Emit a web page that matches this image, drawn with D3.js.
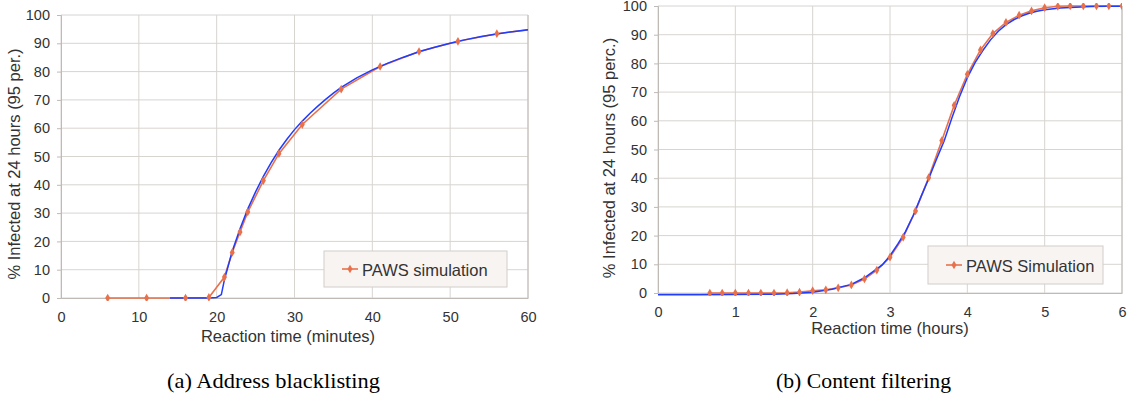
<!DOCTYPE html>
<html>
<head>
<meta charset="utf-8">
<script src="https://cdn.jsdelivr.net/npm/d3@7"></script>
<style>
  body { margin: 0; background: #fff; }
  svg { display: block; }
</style>
</head>
<body>
<svg id="chart" width="1129" height="397"></svg>
<script>
// ---- data: (a) address blacklisting, x in minutes
const blackSimX = [6, 11, 16, 19, 21, 22, 23, 24, 26, 28, 31, 36, 41, 46, 51, 56, 61];
const blackSimY = [0, 0, 0, 0.2, 7.4, 16.1, 23.3, 30.4, 41.5, 51, 61.3, 73.8, 81.8, 87.1, 90.7, 93.4, 95.1];
const blackModelX = [14, 19, 20, 20.6, 21, 22, 23, 24, 25, 26, 27, 28, 29, 30, 31, 32, 33, 34, 35, 36, 38, 40, 42, 44, 46, 48, 50, 52, 54, 56, 58, 60];
const blackModelY = [0, 0, 0.2, 1.2, 6.5, 16.5, 24.5, 31.5, 37.5, 43, 47.8, 52.2, 56, 59.5, 62.5, 65.3, 67.8, 70.2, 72.4, 74.4, 77.8, 80.6, 83, 85.1, 87, 88.6, 90, 91.3, 92.4, 93.3, 94.1, 94.8];

// ---- data: (b) content filtering, x in hours
const filterSimX = [0.67, 0.83, 1, 1.17, 1.33, 1.5, 1.67, 1.83, 2, 2.17, 2.33, 2.5, 2.67, 2.83, 3, 3.17, 3.33, 3.5, 3.67, 3.83, 4, 4.17, 4.33, 4.5, 4.67, 4.83, 5, 5.17, 5.33, 5.5, 5.67, 5.83, 6];
const filterSimY = [0, 0, 0, 0, 0, 0, 0.1, 0.3, 0.8, 1.1, 1.8, 2.8, 4.9, 8, 12.5, 19.4, 28.6, 40.2, 53.1, 65.4, 76.2, 84.7, 90.4, 94.3, 96.8, 98.3, 99.4, 99.9, 100, 100, 100, 100, 100];
const filterModelX = [0, 0.5, 1, 1.5, 1.75, 2, 2.25, 2.5, 2.67, 2.9, 3, 3.1, 3.2, 3.3, 3.4, 3.5, 3.6, 3.7, 3.8, 3.9, 4, 4.1, 4.2, 4.3, 4.4, 4.5, 4.6, 4.7, 4.8, 4.9, 5, 5.2, 5.4, 5.6, 5.8, 6];
const filterModelY = [-0.6, -0.6, -0.55, -0.4, -0.2, 0.3, 1.3, 3, 5.3, 9.8, 13, 17, 21.4, 27, 33.5, 39.8, 46.5, 53, 61, 68.5, 75, 80.3, 84.5, 88.2, 91.2, 93.5, 95.2, 96.5, 97.5, 98.2, 98.7, 99.3, 99.6, 99.8, 99.9, 99.9];

const yTicks = [0, 10, 20, 30, 40, 50, 60, 70, 80, 90, 100];
const blackXTicks = [0, 10, 20, 30, 40, 50, 60];
const filterXTicks = [0, 1, 2, 3, 4, 5, 6];

const orange = "#e8714c";
const blue = "#1f3cff";
const gridColor = "#d8d4d0";
const axisColor = "#bfbab6";
const textColor = "#333";

const svg = d3.select("#chart");

function drawPanel(p) {
    const x = d3.scaleLinear().domain(p.xDomain).range([p.left, p.right]);
    const y = d3.scaleLinear().domain([0, 100]).range([p.bottom, p.top]);
    const g = svg.append("g");

    // clip so lines stop at the plot edge
    g.append("clipPath").attr("id", p.id + "-clip")
        .append("rect")
        .attr("x", p.left).attr("y", p.top - 3)
        .attr("width", p.right - p.left).attr("height", p.bottom - p.top + 6);

    // grid
    g.selectAll(".hgrid").data(yTicks).enter().append("line")
        .attr("x1", p.left).attr("x2", p.right)
        .attr("y1", d => y(d)).attr("y2", d => y(d))
        .attr("stroke", gridColor).attr("stroke-width", 1);
    g.selectAll(".vgrid").data(p.xTicks).enter().append("line")
        .attr("x1", d => x(d)).attr("x2", d => x(d))
        .attr("y1", p.top).attr("y2", p.bottom)
        .attr("stroke", gridColor).attr("stroke-width", 1);

    // axes
    const yAxis = g.append("g").attr("transform", `translate(${p.left},0)`)
        .call(d3.axisLeft(y).tickValues(yTicks).tickSize(4).tickPadding(7));
    const xAxis = g.append("g").attr("transform", `translate(0,${p.bottom})`)
        .call(d3.axisBottom(x).tickValues(p.xTicks).tickFormat(d3.format("d")).tickSize(0).tickPadding(14));
    [yAxis, xAxis].forEach(a => {
        a.select(".domain").attr("stroke", axisColor);
        a.selectAll(".tick line").attr("stroke", axisColor);
        a.selectAll("text").attr("fill", textColor)
            .style("font-family", "'Liberation Sans', Arial, sans-serif")
            .style("font-size", "14.5px");
    });
    xAxis.selectAll("text").attr("dy", p.xTickDy);
    g.append("line").attr("x1", p.right).attr("x2", p.right)
        .attr("y1", p.top).attr("y2", p.bottom).attr("stroke", axisColor);

    // series
    const line = d3.line().x(d => x(d[0])).y(d => y(d[1]));
    const sim = p.simX.map((v, i) => [v, p.simY[i]]);
    const model = p.modelX.map((v, i) => [v, p.modelY[i]]);
    const plot = g.append("g").attr("clip-path", `url(#${p.id}-clip)`);
    plot.append("path").datum(sim).attr("d", line)
        .attr("fill", "none").attr("stroke", orange).attr("stroke-width", 1.6);
    plot.append("path").datum(model).attr("d", line)
        .attr("fill", "none").attr("stroke", blue).attr("stroke-width", 1.5);
    plot.selectAll(".mk").data(sim).enter().append("path")
        .attr("d", d3.symbol().type(d3.symbolDiamond).size(22))
        .attr("transform", d => `translate(${x(d[0])},${y(d[1])})`)
        .attr("fill", orange);

    // axis titles
    g.append("text").attr("x", p.xTitleX).attr("y", p.xTitleY)
        .attr("text-anchor", "middle").attr("fill", textColor)
        .style("font-family", "'Liberation Sans', Arial, sans-serif")
        .style("font-size", "16.5px").text(p.xTitle);
    g.append("text")
        .attr("transform", `translate(${p.yTitleX},${p.yTitleY}) rotate(-90)`)
        .attr("text-anchor", "middle").attr("fill", textColor)
        .style("font-family", "'Liberation Sans', Arial, sans-serif")
        .style("font-size", "16.5px").text(p.yTitle);

    // legend
    const L = p.legend;
    g.append("rect").attr("x", L.x).attr("y", L.y).attr("width", L.w).attr("height", L.h)
        .attr("fill", "#f8f4f2").attr("stroke", "#d2cecb");
    const my = L.y + L.h / 2;
    g.append("line").attr("x1", L.x + 18).attr("x2", L.x + 34).attr("y1", my).attr("y2", my)
        .attr("stroke", orange).attr("stroke-width", 1.6);
    g.append("path").attr("d", d3.symbol().type(d3.symbolDiamond).size(22))
        .attr("transform", `translate(${L.x + 26},${my})`).attr("fill", orange);
    g.append("text").attr("x", L.x + 38).attr("y", my + 6.5).attr("fill", textColor)
        .style("font-family", "'Liberation Sans', Arial, sans-serif")
        .style("font-size", "16.5px").text(L.label);

    // caption
    svg.append("text").attr("x", p.captionX - p.captionW / 2).attr("y", 388)
        .attr("textLength", p.captionW).attr("lengthAdjust", "spacingAndGlyphs")
        .attr("fill", "#000")
        .style("font-family", "'Liberation Serif', 'Times New Roman', serif")
        .style("font-size", "21.5px").text(p.caption);
}

drawPanel({
    id: "a", left: 61, right: 528, top: 15, bottom: 298,
    xDomain: [0, 60], xTicks: blackXTicks, xTickDy: "0.71em",
    simX: blackSimX, simY: blackSimY, modelX: blackModelX, modelY: blackModelY,
    xTitle: "Reaction time (minutes)", xTitleX: 288, xTitleY: 342,
    yTitle: "% Infected at 24 hours (95 per.)", yTitleX: 20, yTitleY: 164,
    legend: { x: 324, y: 251, w: 183, h: 36, label: "PAWS simulation" },
    caption: "(a) Address blacklisting", captionX: 273.5, captionW: 213
});

drawPanel({
    id: "b", left: 658, right: 1122, top: 6, bottom: 293,
    xDomain: [0, 6], xTicks: filterXTicks, xTickDy: "0.71em",
    simX: filterSimX, simY: filterSimY, modelX: filterModelX, modelY: filterModelY,
    xTitle: "Reaction time (hours)", xTitleX: 890, xTitleY: 334,
    yTitle: "% Infected at 24 hours (95 perc.)", yTitleX: 615, yTitleY: 158,
    legend: { x: 928, y: 246, w: 175, h: 38, label: "PAWS Simulation" },
    caption: "(b) Content filtering", captionX: 863.5, captionW: 175
});
</script>
</body>
</html>
